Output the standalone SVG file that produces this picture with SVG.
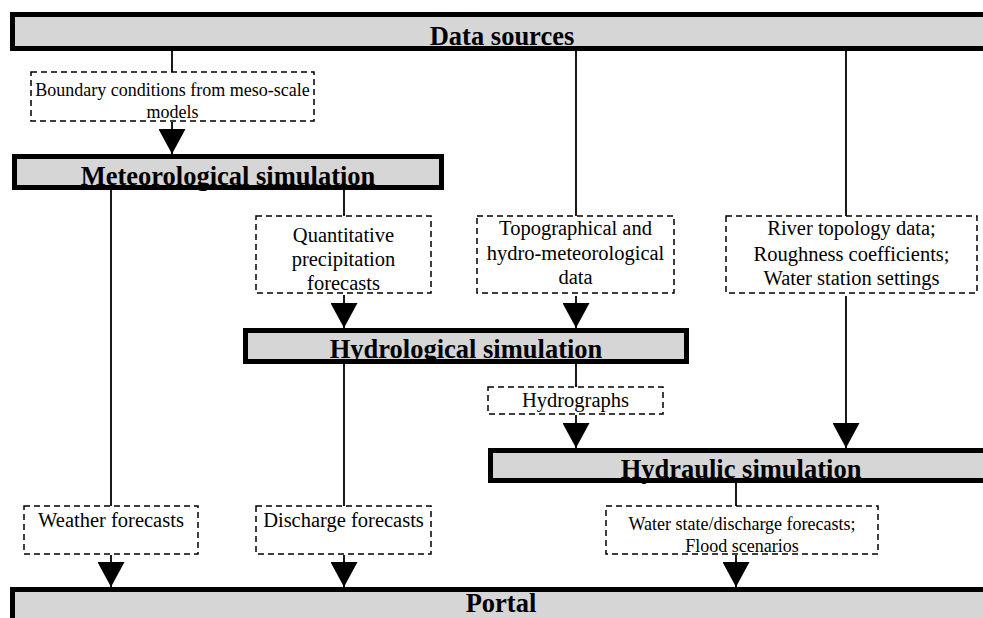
<svg xmlns="http://www.w3.org/2000/svg" width="983" height="618" viewBox="0 0 983 618">
<style>
.bar{fill:#d6d6d6;stroke:#000;stroke-width:5}
.bt{font-family:"Liberation Serif","Times New Roman",serif;font-weight:bold;font-size:26.5px;text-anchor:middle;fill:#000}
.db{fill:#fff;stroke:#000;stroke-width:1.5;stroke-dasharray:6,4}
.lt{font-family:"Liberation Serif","Times New Roman",serif;font-size:20.5px;text-anchor:middle;fill:#000}
.st{font-family:"Liberation Serif","Times New Roman",serif;font-size:18px;text-anchor:middle;fill:#000}
.ln{stroke:#000;stroke-width:1.8;fill:none}
.ar{stroke:#000;stroke-width:1.8;fill:none;marker-end:url(#ah)}
</style>
<defs>
<marker id="ah" markerUnits="userSpaceOnUse" viewBox="0 0 25 27" markerWidth="25" markerHeight="27" refX="25" refY="13.5" orient="auto">
<path d="M0,0 L25,13.5 L0,27 z" fill="#000"/>
</marker>
</defs>
<rect width="983" height="618" fill="#fff"/>
<g id="connectors">
<line class="ln" x1="172" y1="51" x2="172" y2="72"/>
<line class="ln" x1="576" y1="51" x2="576" y2="216"/>
<line class="ln" x1="846" y1="51" x2="846" y2="216"/>
<line class="ln" x1="111" y1="190" x2="111" y2="506"/>
<line class="ln" x1="344" y1="190" x2="344" y2="216"/>
<line class="ln" x1="344" y1="364" x2="344" y2="506"/>
<line class="ln" x1="576" y1="364" x2="576" y2="387"/>
<line class="ln" x1="736" y1="483" x2="736" y2="506"/>
<line class="ar" x1="172" y1="122" x2="172" y2="154"/>
<line class="ar" x1="344" y1="295" x2="344" y2="328"/>
<line class="ar" x1="576" y1="296" x2="576" y2="328"/>
<line class="ar" x1="576" y1="415" x2="576" y2="448"/>
<line class="ar" x1="846" y1="296" x2="846" y2="448"/>
<line class="ar" x1="111" y1="555" x2="111" y2="587"/>
<line class="ar" x1="344" y1="555" x2="344" y2="587"/>
<line class="ar" x1="736" y1="555" x2="736" y2="587"/>
</g>
<g id="data-sources">
<rect class="bar" x="12.5" y="14.5" width="990" height="34"/>
<text class="bt" x="502" y="45">Data sources</text>
</g>
<g id="boundary">
<rect class="db" x="31" y="72" width="283" height="49"/>
<text class="st" x="172.5" y="96">Boundary conditions from meso-scale</text>
<text class="st" x="172.5" y="118">models</text>
</g>
<g id="meteorological">
<rect class="bar" x="14.5" y="156.5" width="427" height="31"/>
<text class="bt" x="228" y="185">Meteorological simulation</text>
</g>
<g id="quantitative">
<rect class="db" x="256" y="216" width="175" height="77"/>
<text class="lt" x="343.5" y="242">Quantitative</text>
<text class="lt" x="343.5" y="266">precipitation</text>
<text class="lt" x="343.5" y="290">forecasts</text>
</g>
<g id="topographical">
<rect class="db" x="477" y="216" width="197" height="77"/>
<text class="lt" x="575.5" y="235">Topographical and</text>
<text class="lt" x="575.5" y="260">hydro-meteorological</text>
<text class="lt" x="575.5" y="284">data</text>
</g>
<g id="river">
<rect class="db" x="726" y="216" width="251" height="77"/>
<text class="lt" x="851.5" y="235">River topology data;</text>
<text class="lt" x="851.5" y="261">Roughness coefficients;</text>
<text class="lt" x="851.5" y="285">Water station settings</text>
</g>
<g id="hydrological">
<rect class="bar" x="245.5" y="330.5" width="441" height="31"/>
<text class="bt" x="466" y="358">Hydrological simulation</text>
</g>
<g id="hydrographs">
<rect class="db" x="488" y="387" width="175" height="27"/>
<text class="lt" x="575.5" y="407">Hydrographs</text>
</g>
<g id="hydraulic">
<rect class="bar" x="490.5" y="450.5" width="512" height="30"/>
<text class="bt" x="741" y="478">Hydraulic simulation</text>
</g>
<g id="weather">
<rect class="db" x="24" y="506" width="174" height="48"/>
<text class="lt" x="111" y="527">Weather forecasts</text>
</g>
<g id="discharge">
<rect class="db" x="256" y="506" width="175" height="48"/>
<text class="lt" x="343.5" y="527">Discharge forecasts</text>
</g>
<g id="water-state">
<rect class="db" x="606" y="506" width="272" height="48"/>
<text class="st" x="742" y="530">Water state/discharge forecasts;</text>
<text class="st" x="742" y="552">Flood scenarios</text>
</g>
<g id="portal">
<rect class="bar" x="12.5" y="589.5" width="990" height="60"/>
<text class="bt" x="501" y="612">Portal</text>
</g>
</svg>
